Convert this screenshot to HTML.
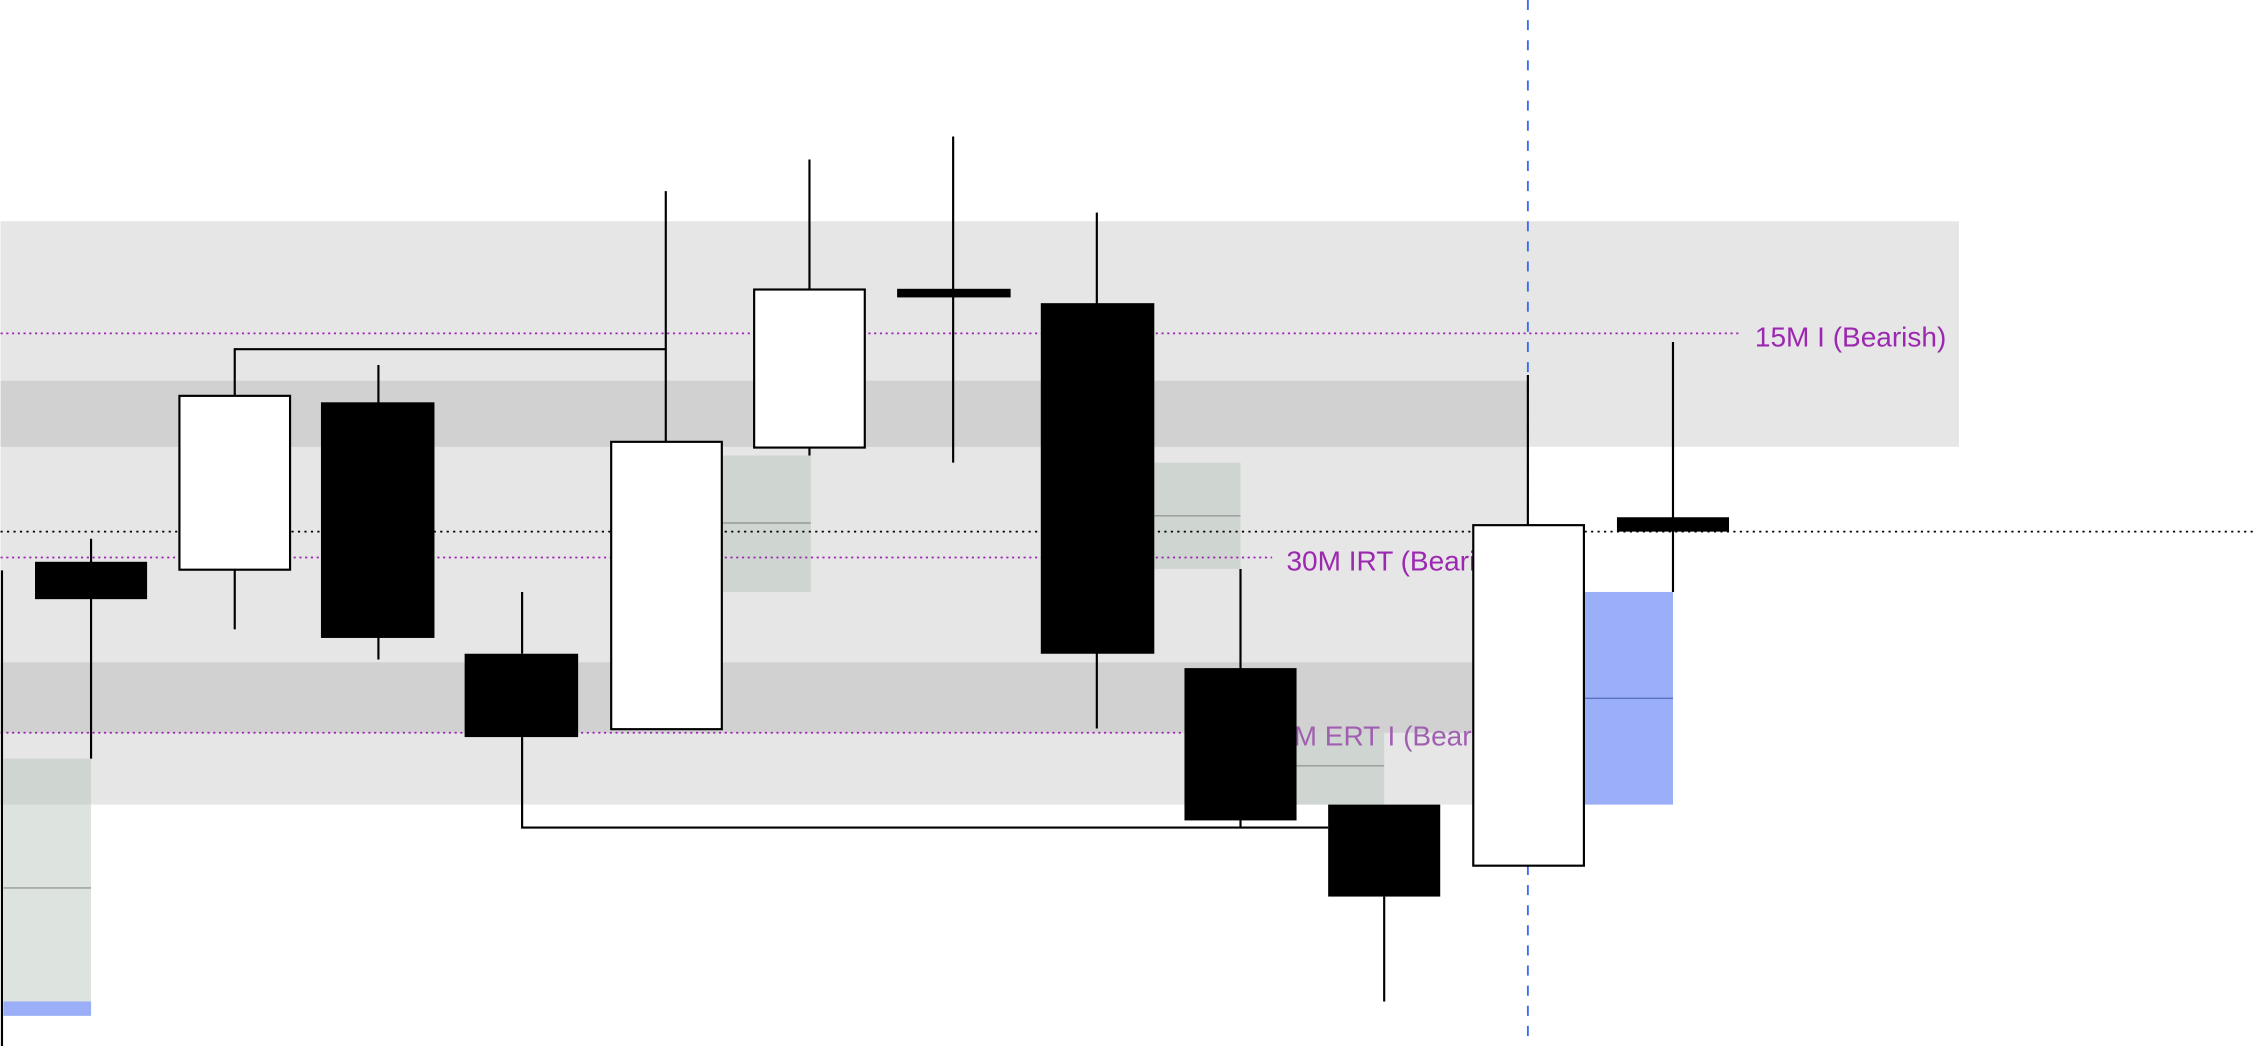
<!DOCTYPE html>
<html><head><meta charset="utf-8"><style>html,body{margin:0;padding:0;background:#fff}svg{display:block}</style></head>
<body>
<svg width="2254" height="1046" viewBox="0 0 1568 728" xmlns="http://www.w3.org/2000/svg" font-family="Liberation Sans, sans-serif">
<rect x="0" y="0" width="1568" height="728" fill="#fff"/>
<rect x="0" y="154" width="1363" height="157" fill="#e6e6e6"/>
<rect x="0" y="311" width="1063" height="249" fill="#e6e6e6"/>
<rect x="0" y="265" width="1063" height="46" fill="#d1d1d1"/>
<rect x="0" y="461" width="1063" height="49" fill="#d1d1d1"/>
<g fill="rgba(180,195,185,0.45)">
<rect x="2" y="528" width="61" height="179"/>
<rect x="502" y="317" width="62" height="95"/>
<rect x="803" y="322" width="60" height="74"/>
<rect x="902" y="510" width="61" height="50"/>
</g>
<rect x="2" y="697" width="61" height="10" fill="#9aaff8"/>
<rect x="1102" y="412" width="62" height="148" fill="#9aaff8"/>
<g stroke="#999" stroke-width="1">
<line x1="2" y1="618" x2="63" y2="618"/><line x1="502" y1="364" x2="564" y2="364"/>
<line x1="803" y1="359" x2="863" y2="359"/><line x1="902" y1="533" x2="963" y2="533"/>
</g>
<line x1="1102" y1="486" x2="1164" y2="486" stroke="#5a70c0" stroke-width="1"/>
<g stroke="#9c27b0" stroke-width="1.2" stroke-dasharray="1.5,2.5">
<line x1="0" y1="232" x2="1210" y2="232"/>
<line x1="0" y1="388" x2="885" y2="388"/>
<line x1="0" y1="510" x2="900" y2="510"/>
</g>
<g fill="#9c27b0" font-size="19.5">
<text x="1221" y="241">15M I (Bearish)</text>
<text x="895" y="397">30M IRT (Bearish)</text>
<text x="900" y="519" fill="#a060b0">M ERT I (Bearish)</text>
</g>
<line x1="0" y1="370" x2="1568" y2="370" stroke="#000" stroke-width="1.2" stroke-dasharray="1.5,3"/>
<line x1="1063" y1="0" x2="1063" y2="728" stroke="#3b6cf0" stroke-width="1.3" stroke-dasharray="7,7"/>
<g stroke="#000" stroke-width="1.5" fill="none">
<line x1="1" y1="397" x2="1" y2="728"/>
<line x1="63" y1="375" x2="63" y2="528"/>
<polyline points="163,275 163,243 463,243"/>
<line x1="163" y1="396" x2="163" y2="438"/>
<line x1="263" y1="254" x2="263" y2="459"/>
<line x1="363" y1="412" x2="363" y2="455"/>
<polyline points="363,513 363,576 924,576"/>
<line x1="463" y1="133" x2="463" y2="307"/>
<line x1="563" y1="111" x2="563" y2="317"/>
<line x1="663" y1="95" x2="663" y2="322"/>
<line x1="763" y1="148" x2="763" y2="507"/>
<line x1="863" y1="396" x2="863" y2="576"/>
<line x1="963" y1="624" x2="963" y2="697"/>
<line x1="1063" y1="261" x2="1063" y2="365"/>
<line x1="1164" y1="238" x2="1164" y2="412"/>
</g>
<g fill="#000">
<rect x="24" y="391" width="78" height="26"/>
<rect x="223" y="280" width="79" height="164"/>
<rect x="323" y="455" width="79" height="58"/>
<rect x="624" y="201" width="79" height="6"/>
<rect x="724" y="211" width="79" height="244"/>
<rect x="824" y="465" width="78" height="106"/>
<rect x="924" y="560" width="78" height="64"/>
<rect x="1125" y="360" width="78" height="10"/>
</g>
<g fill="#fff" stroke="#000" stroke-width="1.5">
<rect x="124.5" y="275.5" width="77" height="121"/>
<rect x="425" y="307.5" width="77" height="200"/>
<rect x="524.5" y="201.5" width="77" height="110"/>
<rect x="1025" y="365.5" width="77" height="237"/>
</g>
</svg>
</body></html>
